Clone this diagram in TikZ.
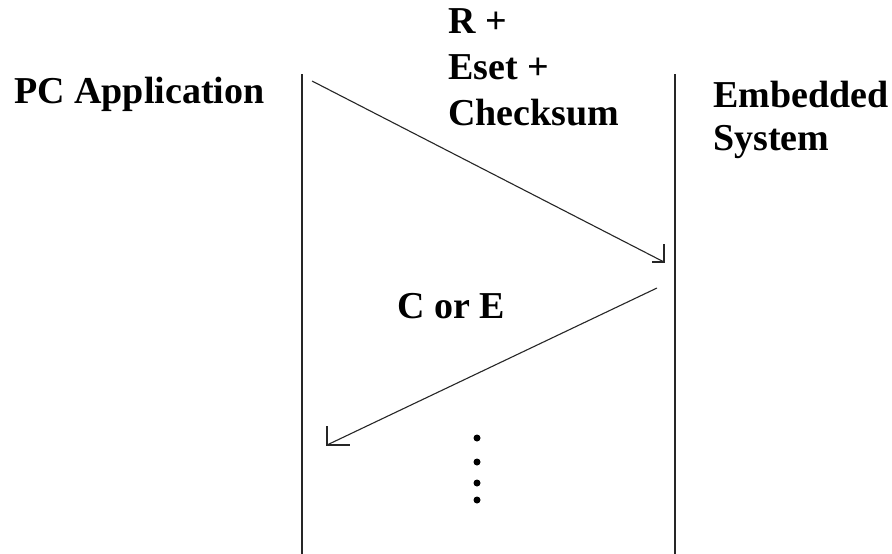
\documentclass[tikz,border=0pt]{standalone}
\usepackage{fontspec}
\setmainfont{Liberation Serif}
\begin{document}
\begin{tikzpicture}[x=1pt,y=-1pt,
  lbl/.style={inner sep=0pt,anchor=base west,font=\fontsize{38}{45}\selectfont\bfseries},
  life/.style={line width=1.8pt,draw=black!85},
  msg/.style={line width=1.1pt,draw=black!85},
  dotmark/.style={circle,fill=black,inner sep=0pt,minimum size=7pt}]
\useasboundingbox[fill=white] (0,0) rectangle (892,554);
% lifelines
\coordinate (lt) at (302,74);
\coordinate (lb) at (302,554);
\coordinate (rt) at (675,74);
\coordinate (rb) at (675,554);
\draw[life] (lt) -- (lb);
\draw[life] (rt) -- (rb);
% labels
\node[lbl] (pc) at (14,103) {PC Application};
\node[lbl] (es1) at (713,107) {Embedded};
\node[lbl] (es2) at (713,150) {System};
\node[lbl] (m1) at (448,34) {R +};
\node[lbl] (m2) at (448,79) {Eset +};
\node[lbl] (m3) at (448,125) {Checksum};
\node[lbl] (m4) at (397,318) {C or E};
% message 1
\coordinate (s1) at (312,81);
\coordinate (t1) at (664,262);
\coordinate (t1v) at (664,244);
\coordinate (t1h) at (652,262);
\draw[msg] (s1) -- (t1);
\draw[msg,line width=1.4pt] (t1v) -- (t1) -- (t1h);
% message 2
\coordinate (s2) at (657,288);
\coordinate (t2) at (327,445);
\coordinate (t2v) at (327,426);
\coordinate (t2h) at (350,445);
\draw[msg] (s2) -- (t2);
\draw[msg,line width=1.4pt] (t2v) -- (t2) -- (t2h);
% continuation dots
\node[dotmark] (d1) at (477,438) {};
\node[dotmark] (d2) at (477,462) {};
\node[dotmark] (d3) at (477,483) {};
\node[dotmark] (d4) at (477,500) {};
\end{tikzpicture}
\end{document}
